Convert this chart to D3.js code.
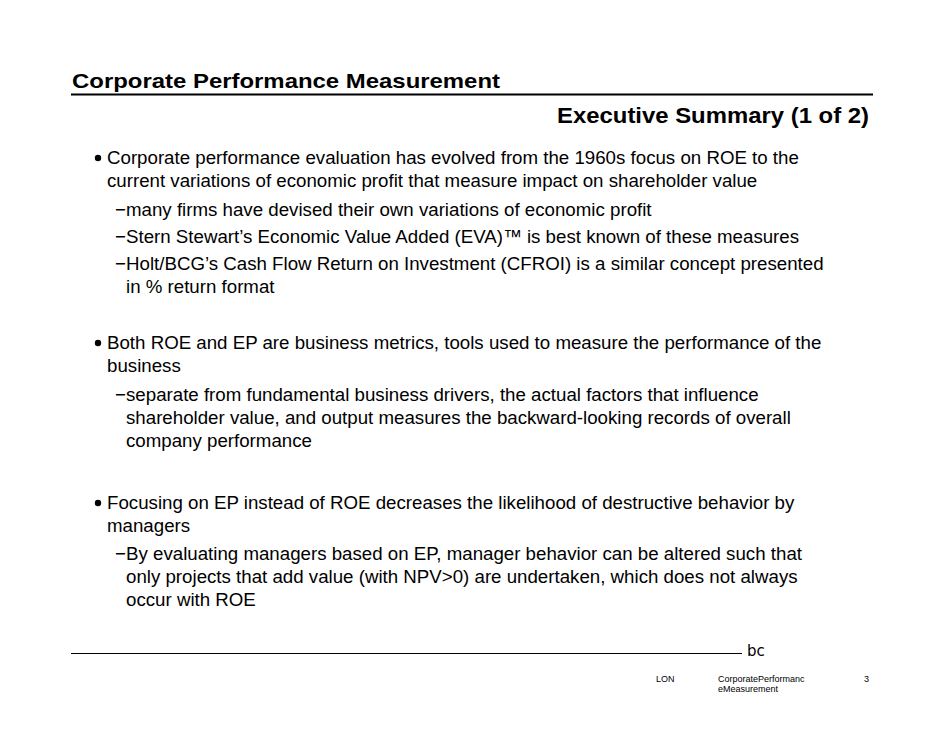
<!DOCTYPE html>
<html><head><meta charset="utf-8">
<script src="https://cdn.jsdelivr.net/npm/d3@7"></script>
<style>body{margin:0;background:#fff}</style></head>
<body><svg id="s" width="950" height="735"></svg>
<script>
const title = "Corporate Performance Measurement";
const subtitle = "Executive Summary (1 of 2)";
const items = [
  {level:1, y:164, lines:["Corporate performance evaluation has evolved from the 1960s focus on ROE to the","current variations of economic profit that measure impact on shareholder value"]},
  {level:2, y:216, lines:["many firms have devised their own variations of economic profit"]},
  {level:2, y:243, lines:["Stern Stewart\u2019s Economic Value Added (EVA)\u2122  is best known of these measures"]},
  {level:2, y:270, lines:["Holt/BCG\u2019s Cash Flow Return on Investment (CFROI) is a similar concept presented","in % return format"]},
  {level:1, y:349, lines:["Both ROE and EP are business metrics, tools used to measure the performance of the","business"]},
  {level:2, y:401, lines:["separate from fundamental business drivers, the actual factors that influence","shareholder value, and output measures the backward-looking records of overall","company performance"]},
  {level:1, y:509, lines:["Focusing on EP instead of ROE decreases the likelihood of destructive behavior by","managers"]},
  {level:2, y:560, lines:["By evaluating managers based on EP, manager behavior can be altered such that","only projects that add value (with NPV>0) are undertaken, which does not always","occur with ROE"]}
];
const footer = ["LON","CorporatePerformanc","eMeasurement","3"];

const svg = d3.select("#s");
const F = "Liberation Sans, Arial, sans-serif";
svg.append("text").attr("x",72).attr("y",88).attr("font-family",F).attr("font-weight","bold").attr("font-size",21)
  .attr("textLength",428).attr("lengthAdjust","spacingAndGlyphs").text(title);
svg.append("line").attr("x1",71).attr("x2",873).attr("y1",94.5).attr("y2",94.5).attr("stroke","#000").attr("stroke-width",2);
svg.append("text").attr("x",557).attr("y",123).attr("font-family",F).attr("font-weight","bold").attr("font-size",22.5)
  .attr("textLength",312).attr("lengthAdjust","spacingAndGlyphs").text(subtitle);

const lh = 23;
const fs = 18.7;
items.forEach(it=>{
  const tx = it.level===1?107:126;
  if(it.level===1) svg.append("circle").attr("cx",98).attr("cy",it.y-6).attr("r",3.2).attr("fill","#000");
  else svg.append("text").attr("x",115).attr("y",it.y).attr("font-family",F).attr("font-size",fs).text("\u2212");
  it.lines.forEach((l,i)=>svg.append("text").attr("x",tx).attr("y",it.y+i*lh).attr("font-family",F).attr("font-size",fs).attr("fill","#000").text(l));
});

svg.append("line").attr("x1",71).attr("x2",742).attr("y1",653.5).attr("y2",653.5).attr("stroke","#000").attr("stroke-width",1);
svg.append("text").attr("x",747).attr("y",656).attr("font-family","DejaVu Sans, sans-serif").attr("font-size",15).text("bc");
svg.append("text").attr("x",656).attr("y",682).attr("font-family",F).attr("font-size",9).text(footer[0]);
svg.append("text").attr("x",718).attr("y",682).attr("font-family",F).attr("font-size",9).text(footer[1]);
svg.append("text").attr("x",718).attr("y",692).attr("font-family",F).attr("font-size",9).text(footer[2]);
svg.append("text").attr("x",864).attr("y",682).attr("font-family",F).attr("font-size",9).text(footer[3]);
</script></body></html>
